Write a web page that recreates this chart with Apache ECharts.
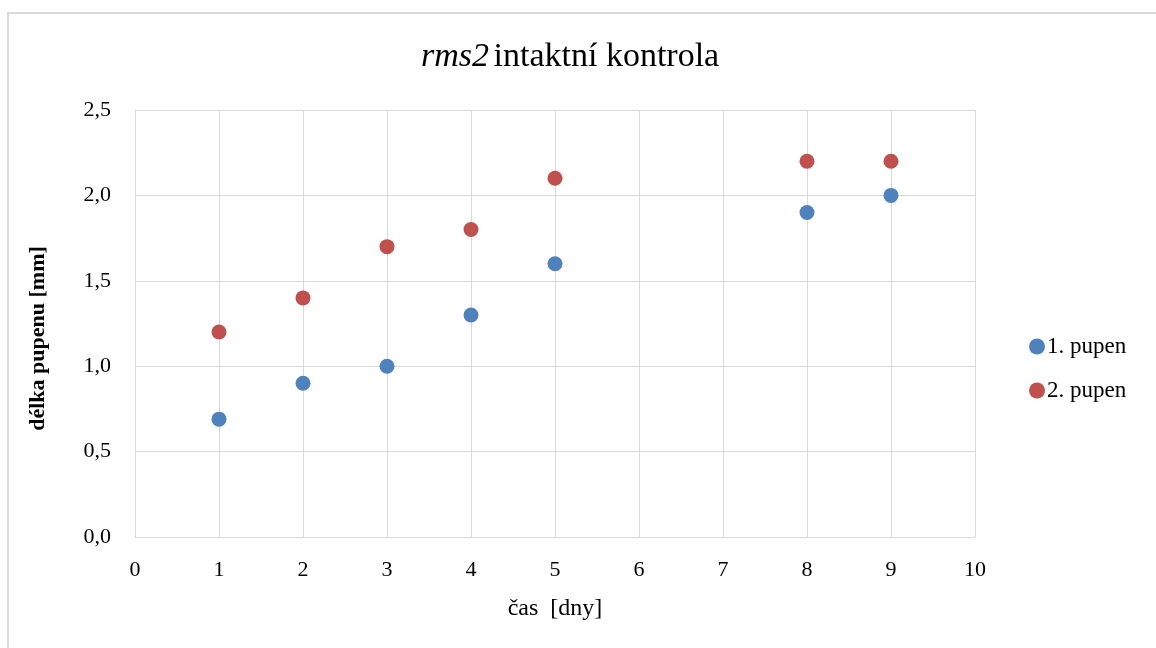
<!DOCTYPE html>
<html>
<head>
<meta charset="utf-8">
<script src="https://cdn.jsdelivr.net/npm/echarts@6/dist/echarts.min.js"></script>
<style>
  html, body { margin: 0; padding: 0; background: #fff; }
  #chart { width: 1156px; height: 648px; }
</style>
</head>
<body>
<div id="chart"></div>
<script>
// days and bud lengths [mm]
var days1 = [1, 2, 3, 4, 5, 8, 9]
var bud1 = [0.69, 0.9, 1.0, 1.3, 1.6, 1.9, 2.0]
var days2 = [1, 2, 3, 4, 5, 8, 9]
var bud2 = [1.2, 1.4, 1.7, 1.8, 2.1, 2.2, 2.2]
var seriesNames = ['1. pupen', '2. pupen']

var serif = '"Liberation Serif", "Times New Roman", serif'

function pairs(xs, ys) {
  return xs.map(function (x, i) { return [x, ys[i]] })
}

var chart = echarts.init(document.getElementById('chart'))
chart.setOption({
  animation: false,
  textStyle: { fontFamily: serif },
  graphic: [{
    type: 'rect',
    shape: { x: 8, y: 13, width: 1160, height: 660 },
    style: { fill: 'none', stroke: '#d9d9d9', lineWidth: 2 },
    silent: true
  }],
  title: {
    text: '{i|rms2} {n|intaktní kontrola}',
    left: 416,
    top: 35,
    textStyle: {
      rich: {
        i: { fontFamily: serif, fontStyle: 'italic', fontWeight: 'normal', fontSize: 34, color: '#000' },
        n: { fontFamily: serif, fontWeight: 'normal', fontSize: 34, color: '#000' }
      }
    }
  },
  grid: { left: 135, right: 181, top: 110, bottom: 111 },
  legend: {
    orient: 'vertical',
    left: 1024,
    top: 330,
    itemGap: 21,
    itemWidth: 16,
    itemHeight: 16,
    icon: 'circle',
    data: seriesNames,
    textStyle: { fontFamily: serif, fontSize: 23, color: '#000', padding: [0, 0, 0, -3] }
  },
  xAxis: {
    type: 'value',
    min: 0,
    max: 10,
    interval: 1,
    name: 'čas  [dny]',
    nameLocation: 'middle',
    nameGap: 60,
    nameTextStyle: { fontFamily: serif, fontSize: 24, color: '#000' },
    axisLine: { show: true, lineStyle: { color: '#d9d9d9', width: 1 } },
    axisTick: { show: false },
    axisLabel: { fontFamily: serif, fontSize: 22, color: '#000', margin: 22 },
    splitLine: { show: true, lineStyle: { color: '#d9d9d9', width: 1 } }
  },
  yAxis: {
    type: 'value',
    min: 0,
    max: 2.5,
    interval: 0.5,
    name: 'délka pupenu [mm]',
    nameLocation: 'middle',
    nameGap: 86,
    nameTextStyle: { fontFamily: serif, fontSize: 22, fontWeight: 'bold', color: '#000', padding: [0, 30, 0, 0] },
    axisLine: { show: true, lineStyle: { color: '#d9d9d9', width: 1 } },
    axisTick: { show: false },
    axisLabel: {
      fontFamily: serif, fontSize: 22, color: '#000', margin: 24,
      formatter: function (v) { return v.toFixed(1).replace('.', ',') }
    },
    splitLine: { show: true, lineStyle: { color: '#d9d9d9', width: 1 } }
  },
  series: [{
    name: seriesNames[0],
    type: 'scatter',
    symbolSize: 15,
    itemStyle: { color: '#4f81bd', opacity: 1 },
    data: pairs(days1, bud1)
  }, {
    name: seriesNames[1],
    type: 'scatter',
    symbolSize: 15,
    itemStyle: { color: '#c0504d', opacity: 1 },
    data: pairs(days2, bud2)
  }]
})
</script>
</body>
</html>
